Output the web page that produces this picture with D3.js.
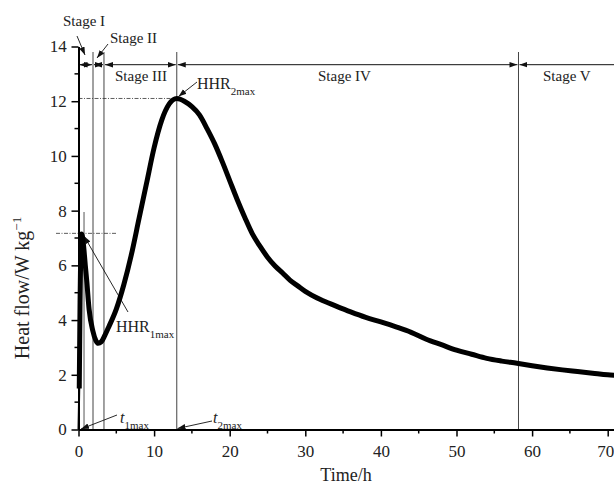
<!DOCTYPE html>
<html>
<head>
<meta charset="utf-8">
<script src="https://cdn.jsdelivr.net/npm/d3@7"></script>
<style>
  body { margin: 0; background: #fff; }
  svg { font-family: "Liberation Serif", "Times New Roman", serif; }
</style>
</head>
<body>
<div id="chart"></div>
<script>
// heat flow curve
var time = [0, 0.1, 0.2, 0.3, 0.4, 0.6, 0.9, 1.1, 1.4, 1.9, 2.3, 2.6, 3.0, 3.5, 4, 5, 6, 7, 8, 9, 10, 11, 12, 13,
    14, 15, 16, 17, 18, 19, 20, 21, 22, 23, 24, 25, 26, 27, 28, 29, 30, 32, 34, 36, 38, 40, 42, 44, 46, 48, 50,
    52, 54, 56, 58, 60, 62, 64, 66, 68, 70, 71];
var heatFlow = [0, 1.5, 4.5, 6.6, 7.15, 6.9, 6.0, 5.4, 4.4, 3.6, 3.25, 3.15, 3.2, 3.45, 3.75, 4.4, 5.3, 6.4, 7.7, 9.0, 10.3, 11.3, 11.9, 12.1,
    12.0, 11.8, 11.5, 11.0, 10.45, 9.8, 9.1, 8.4, 7.75, 7.15, 6.7, 6.3, 5.98, 5.72, 5.45, 5.25, 5.05, 4.75, 4.52, 4.3, 4.1, 3.93, 3.75, 3.55, 3.3, 3.1, 2.9,
    2.75, 2.6, 2.5, 2.42, 2.33, 2.25, 2.18, 2.12, 2.06, 2.0, 1.98];

// stage boundaries (h) and names
var stageBounds = [0, 1.92, 3.37, 13.0, 58.2, 71];
var stageNames = ["Stage I", "Stage II", "Stage III", "Stage IV", "Stage V"];

// peaks
var t1max = 0.73, hhr1max = 7.17;
var t2max = 13.0, hhr2max = 12.1;

var xTicks = [0, 10, 20, 30, 40, 50, 60, 70];
var yTicks = [0, 2, 4, 6, 8, 10, 12, 14];

(function() {
    var width = 614, height = 486;
    var left = 78.5, top = 46.5, bottom = 429.5;

    var svg = d3.select('#chart').append('svg')
        .attr('width', width)
        .attr('height', height);

    var x = d3.scaleLinear().domain([0, 71]).range([left, left + 71 * 7.56]);
    var y = d3.scaleLinear().domain([0, 14]).range([bottom, top]);

    // arrow heads
    var defs = svg.append('defs');
    defs.append('marker')
        .attr('id', 'arr')
        .attr('viewBox', '0 0 10 10')
        .attr('refX', 10).attr('refY', 5)
        .attr('markerWidth', 8).attr('markerHeight', 8)
        .attr('markerUnits', 'userSpaceOnUse')
        .attr('orient', 'auto-start-reverse')
        .append('path').attr('d', 'M0,1.5 L10,5 L0,8.5 Z').attr('fill', '#111');

    // vertical stage lines
    var stageLines = stageBounds.slice(1, 5);
    svg.append('g').selectAll('line')
        .data(stageLines)
        .join('line')
            .attr('x1', d => x(d)).attr('x2', d => x(d))
            .attr('y1', 52).attr('y2', y(0))
            .attr('stroke', '#444').attr('stroke-width', 1);

    // short marker line at t1max
    svg.append('line')
        .attr('x1', x(t1max)).attr('x2', x(t1max))
        .attr('y1', y(7.95)).attr('y2', y(0))
        .attr('stroke', '#555').attr('stroke-width', 1);

    // dash-dot guides to the peaks
    svg.append('line')
        .attr('x1', 56).attr('x2', 117)
        .attr('y1', y(hhr1max)).attr('y2', y(hhr1max))
        .attr('stroke', '#333').attr('stroke-width', 0.8)
        .attr('stroke-dasharray', '4,1.5,1,1.5');
    svg.append('line')
        .attr('x1', x(0)).attr('x2', x(t2max))
        .attr('y1', y(hhr2max)).attr('y2', y(hhr2max))
        .attr('stroke', '#333').attr('stroke-width', 0.8)
        .attr('stroke-dasharray', '4,1.5,1,1.5');

    // double arrows for the stages
    var arrowY = 64.7;
    var segs = d3.range(stageNames.length).map(i => ({a: stageBounds[i], b: stageBounds[i + 1], name: stageNames[i]}));
    svg.append('g').selectAll('line')
        .data(segs)
        .join('line')
            .attr('x1', d => x(d.a) + 1)
            .attr('x2', d => Math.min(x(d.b) - 1, width + 20))
            .attr('y1', arrowY).attr('y2', arrowY)
            .attr('stroke', '#111').attr('stroke-width', 1)
            .attr('marker-start', 'url(#arr)')
            .attr('marker-end', (d, i) => i === segs.length - 1 ? null : 'url(#arr)');

    // stage labels
    var labels = [
        {text: "Stage I", x: 63, y: 26},
        {text: "Stage II", x: 110, y: 43},
        {text: "Stage III", x: 115, y: 81},
        {text: "Stage IV", x: 318, y: 81},
        {text: "Stage V", x: 543, y: 81}
    ];
    svg.append('g').selectAll('text')
        .data(labels)
        .join('text')
            .attr('x', d => d.x).attr('y', d => d.y)
            .attr('font-size', '15px').attr('fill', '#222')
            .text(d => d.text);

    // pointer arrows
    var pointers = [
        [77, 36, 85, 55],
        [108, 44, 97, 58],
        [197, 82, 178.5, 96.5],
        [128, 312, 84, 236],
        [117, 415, 81, 429],
        [212, 421, 177.5, 428.5]
    ];
    svg.append('g').selectAll('line')
        .data(pointers)
        .join('line')
            .attr('x1', d => d[0]).attr('y1', d => d[1])
            .attr('x2', d => d[2]).attr('y2', d => d[3])
            .attr('stroke', '#111').attr('stroke-width', 0.9)
            .attr('marker-end', 'url(#arr)');

    // peak labels with subscripts
    function subLabel(px, py, main, sub, italic) {
        var t = svg.append('text')
            .attr('x', px).attr('y', py)
            .attr('font-size', '16px').attr('fill', '#222');
        t.append('tspan').attr('font-style', italic ? 'italic' : null).text(main);
        t.append('tspan').attr('dy', 6).attr('font-size', '11px').text(sub);
    }
    subLabel(197, 89, "HHR", "2max", false);
    subLabel(116, 332, "HHR", "1max", false);
    subLabel(120, 423, "t", "1max", true);
    subLabel(213, 423, "t", "2max", true);

    // the curve: thin at the very start, thick after
    var pts = time.map((t, i) => [t, heatFlow[i]]);
    var line = d3.line()
        .x(d => x(d[0]))
        .y(d => y(d[1]))
        .curve(d3.curveMonotoneX);
    svg.append('path')
        .datum(pts.slice(0, 3))
        .attr('d', line)
        .attr('fill', 'none')
        .attr('stroke', '#000')
        .attr('stroke-width', 2);
    svg.append('path')
        .datum(pts.slice(1))
        .attr('d', line)
        .attr('fill', 'none')
        .attr('stroke', '#000')
        .attr('stroke-width', 5)
        .attr('stroke-linejoin', 'round');

    // x axis
    var xAxis = svg.append('g')
        .attr('transform', `translate(0, ${bottom})`)
        .call(d3.axisBottom(x).tickValues(xTicks).tickSize(7).tickSizeOuter(0))
        .attr('font-size', '17px')
        .attr('font-family', '"Liberation Serif", "Times New Roman", serif');
    xAxis.append('g').selectAll('line')
        .data(d3.range(5, 70, 10))
        .join('line')
            .attr('x1', d => x(d)).attr('x2', d => x(d))
            .attr('y1', 0).attr('y2', 4)
            .attr('stroke', '#000').attr('stroke-width', 1.5);

    // y axis
    var yAxis = svg.append('g')
        .attr('transform', `translate(${left}, 0)`)
        .call(d3.axisLeft(y).tickValues(yTicks).tickSize(7).tickSizeOuter(0))
        .attr('font-size', '17px')
        .attr('font-family', '"Liberation Serif", "Times New Roman", serif');
    yAxis.append('g').selectAll('line')
        .data(d3.range(1, 14, 2))
        .join('line')
            .attr('x1', 0).attr('x2', -4)
            .attr('y1', d => y(d)).attr('y2', d => y(d))
            .attr('stroke', '#000').attr('stroke-width', 1.5);

    svg.selectAll('.domain').attr('stroke-width', 2);
    svg.selectAll('.tick line').attr('stroke-width', 1.5);
    svg.selectAll('.tick text').attr('fill', '#222');
    xAxis.selectAll('.tick text').attr('dy', '1.0em')
        .attr('dx', d => d === 70 ? '-0.15em' : null);
    yAxis.selectAll('.tick text').attr('dx', '-0.1em');

    // axis titles
    svg.append('text')
        .attr('x', 346).attr('y', 481)
        .attr('text-anchor', 'middle')
        .attr('font-size', '18px').attr('fill', '#222')
        .text('Time/h');

    var yt = svg.append('text')
        .attr('transform', 'translate(29, 288) rotate(-90)')
        .attr('text-anchor', 'middle')
        .attr('font-size', '20px').attr('fill', '#222');
    yt.append('tspan').text('Heat flow/W kg');
    yt.append('tspan').attr('dy', -8).attr('font-size', '13px').text('\u22121');
})();
</script>
</body>
</html>
